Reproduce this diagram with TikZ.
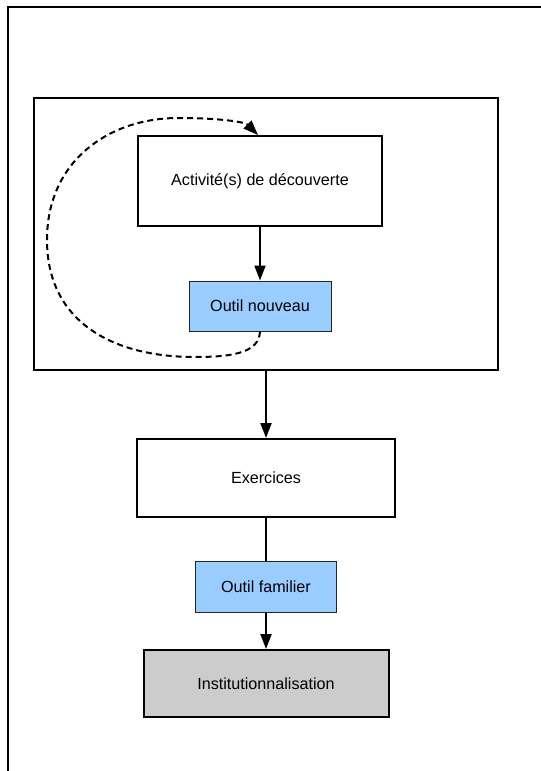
\documentclass[tikz,border=0pt]{standalone}
\usepackage{fontspec}
\setmainfont{Liberation Sans}
\usetikzlibrary{arrows.meta}
\definecolor{toolblue}{HTML}{99CCFF}
\definecolor{instgray}{HTML}{CCCCCC}
\tikzset{
  blackbox/.style={draw=black, line width=2bp, fill=white, rectangle, inner sep=0pt, font=\fontsize{16.2}{19}\selectfont},
  bluebox/.style={draw=black!85, line width=1bp, fill=toolblue, rectangle, inner sep=0pt, font=\fontsize{16.2}{19}\selectfont},
  graybox/.style={draw=black, line width=2bp, fill=instgray, rectangle, inner sep=0pt, font=\fontsize{16.2}{19}\selectfont},
  flow/.style={line width=2bp, -{Triangle[length=15bp,width=11bp]}},
  plainlink/.style={line width=2bp},
  loopback/.style={line width=2bp, dash pattern=on 6bp off 4bp, -{Triangle[length=15bp,width=11bp]}}
}
\begin{document}
\begin{tikzpicture}[x=1bp,y=-1bp]
\useasboundingbox (0,0) rectangle (541,771);
\fill[white] (0,0) rectangle (541,771);
% outer frame (left and top edges)
\draw[line width=2bp] (8,771) -- (8,7) -- (541,7);
% inner frame
\node[blackbox, minimum width=464bp, minimum height=272bp] (inner) at (266,234) {};
% nodes
\node[blackbox, minimum width=244bp, minimum height=90bp] (act) at (260,181) {Activité(s) de découverte};
\node[bluebox, minimum width=142bp, minimum height=50bp] (on) at (260,306) {Outil nouveau};
\node[blackbox, minimum width=258bp, minimum height=78bp] (ex) at (266,478) {Exercices};
\node[bluebox, minimum width=141bp, minimum height=51bp] (of) at (266,586.5) {Outil familier};
\node[graybox, minimum width=245bp, minimum height=67bp] (inst) at (266,683.5) {Institutionnalisation};
% connectors
\draw[flow] (act.south) -- (on.north);
\draw[flow] (inner.south) -- (ex.north);
\draw[plainlink] (ex.south) -- (of.north);
\draw[flow] (of.south) -- (inst.north);
\draw[loopback] (on.south)
  .. controls (259,352) and (235,357) .. (195,357)
  .. controls (110,357) and (47,320) .. (47,240)
  .. controls (47,160) and (110,118) .. (178,118)
  .. controls (220,118) and (245,122) .. ([xshift=-2bp]act.north);
\end{tikzpicture}
\end{document}
